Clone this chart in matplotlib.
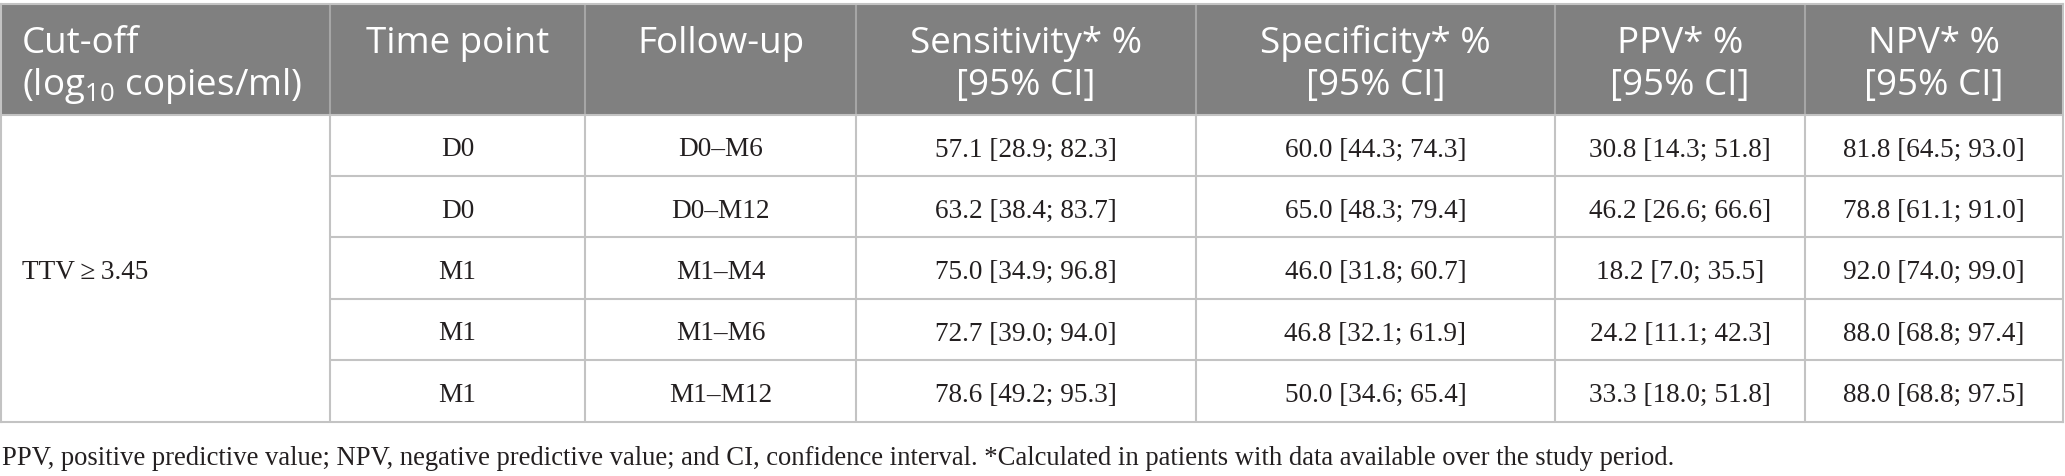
import matplotlib
matplotlib.use("Agg")
import matplotlib.pyplot as plt
from matplotlib.patches import Rectangle

plt.rcParams['mathtext.fontset'] = 'custom'
plt.rcParams['mathtext.rm'] = 'Open Sans'
plt.rcParams['mathtext.it'] = 'Open Sans:italic'

# ---- data ----
header_line1 = ["Cut-off", "Time point", "Follow-up", "Sensitivity* %", "Specificity* %", "PPV* %", "NPV* %"]
header_line2 = ["(log$_{\\mathrm{10}}$ copies/ml)", "", "", "[95% CI]", "[95% CI]", "[95% CI]", "[95% CI]"]
cutoff_label = "TTV\u2009\u2265\u20093.45"
time_points = ["D0", "D0", "M1", "M1", "M1"]
follow_ups = ["D0\u2013M6", "D0\u2013M12", "M1\u2013M4", "M1\u2013M6", "M1\u2013M12"]
sensitivity = ["57.1 [28.9; 82.3]", "63.2 [38.4; 83.7]", "75.0 [34.9; 96.8]", "72.7 [39.0; 94.0]", "78.6 [49.2; 95.3]"]
specificity = ["60.0 [44.3; 74.3]", "65.0 [48.3; 79.4]", "46.0 [31.8; 60.7]", "46.8 [32.1; 61.9]", "50.0 [34.6; 65.4]"]
ppv = ["30.8 [14.3; 51.8]", "46.2 [26.6; 66.6]", "18.2 [7.0; 35.5]", "24.2 [11.1; 42.3]", "33.3 [18.0; 51.8]"]
npv = ["81.8 [64.5; 93.0]", "78.8 [61.1; 91.0]", "92.0 [74.0; 99.0]", "88.0 [68.8; 97.4]", "88.0 [68.8; 97.5]"]
footnote = ("PPV, positive predictive value; NPV, negative predictive value; and CI, confidence interval. "
            "*Calculated in patients with data available over the study period.")

# ---- layout (pixels) ----
W, H = 2065, 476
col_edges = [1, 330, 585, 856, 1196, 1555, 1805, 2063]
head_top, head_bot = 4, 115
row_edges = [115, 176, 237, 299, 360, 422]
header_bg = "#808080"
grid_col = "#c3c3c3"
head_sep = "#a6a6a6"
text_col = "#231f20"

fig = plt.figure(figsize=(W / 100, H / 100), dpi=100)
ax = fig.add_axes([0, 0, 1, 1])
ax.set_xlim(0, W)
ax.set_ylim(H, 0)
ax.axis("off")

# header background
ax.add_patch(Rectangle((col_edges[0], head_top), col_edges[-1] - col_edges[0], head_bot - head_top,
                       facecolor=header_bg, edgecolor="none"))
# header separators
for x in col_edges[1:-1]:
    ax.plot([x, x], [head_top, head_bot], color=head_sep, lw=1.5, solid_capstyle="butt")

# body grid
for y in row_edges[1:-1]:
    ax.plot([col_edges[1], col_edges[-1]], [y, y], color=grid_col, lw=1.5, solid_capstyle="butt")
for x in col_edges[1:-1]:
    ax.plot([x, x], [head_bot, row_edges[-1]], color=grid_col, lw=1.5, solid_capstyle="butt")
# outer border
ax.plot([col_edges[0], col_edges[-1]], [head_top, head_top], color=grid_col, lw=1.5)
ax.plot([col_edges[0], col_edges[-1]], [head_bot, head_bot], color=grid_col, lw=1.5)
ax.plot([col_edges[0], col_edges[-1]], [row_edges[-1], row_edges[-1]], color=grid_col, lw=1.5)
ax.plot([col_edges[0], col_edges[0]], [head_top, row_edges[-1]], color=grid_col, lw=1.5)
ax.plot([col_edges[-1], col_edges[-1]], [head_top, row_edges[-1]], color=grid_col, lw=1.5)

# header text
hfs = 26.5
for j in range(len(header_line1)):
    if j == 0:
        x, ha = col_edges[0] + 21, "left"
    else:
        x, ha = (col_edges[j] + col_edges[j + 1]) / 2, "center"
    ax.text(x, 53, header_line1[j], ha=ha, va="baseline", color="white", fontsize=hfs, family="Open Sans")
    if header_line2[j]:
        ax.text(x, 95, header_line2[j], ha=ha, va="baseline", color="white", fontsize=hfs, family="Open Sans")

# body text
bfs = 19.6
serif = ["Liberation Serif", "DejaVu Serif"]
mid_all = (row_edges[0] + row_edges[-1]) / 2
ax.text(col_edges[0] + 21, mid_all + 10.5, cutoff_label, ha="left", va="baseline",
        color=text_col, fontsize=bfs, family=serif)
columns = [time_points, follow_ups, sensitivity, specificity, ppv, npv]
for i in range(len(time_points)):
    yc = (row_edges[i] + row_edges[i + 1]) / 2
    for c, col in enumerate(columns):
        xc = (col_edges[c + 1] + col_edges[c + 2]) / 2
        ax.text(xc, yc + 11, col[i], ha="center", va="baseline", color=text_col,
                fontsize=bfs, family=serif)

# footnote
ax.text(2, 465, footnote, ha="left", va="baseline", color=text_col, fontsize=19.2, family=serif)

fig.savefig("out.png", dpi=100)
